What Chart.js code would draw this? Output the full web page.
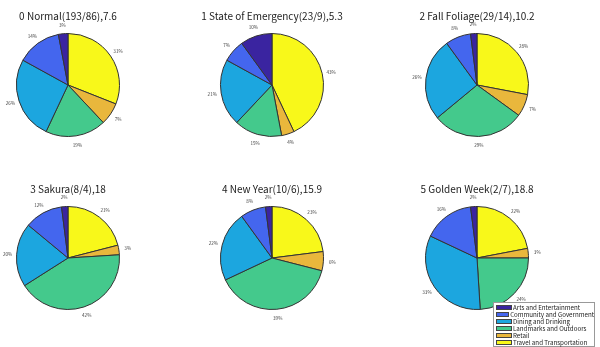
<!DOCTYPE html>
<html>
<head>
<meta charset="utf-8">
<script src="https://cdn.jsdelivr.net/npm/chart.js@4.4.1/dist/chart.umd.min.js"></script>
<style>
  body { margin: 0; background: #fff; }
  #wrap { position: relative; width: 600px; height: 347px; overflow: hidden; }
  .pie { position: absolute; width: 200px; height: 150px; }
  #legend {
    position: absolute; left: 493px; top: 302px; width: 98px; height: 42px;
    background: #fff; border: 1px solid #999; padding: 1px 0 0 2px;
    font-family: "Noto Sans CJK JP", "Noto Sans", sans-serif; font-size: 6.2px; color: #222;
    line-height: 7px; z-index: 5;
  }
  #legend div { display: flex; align-items: center; white-space: nowrap; height: 7px; }
  #legend span.sw { display: inline-block; width: 16px; height: 5px; margin-right: 1px; border: 0.5px solid #444; box-sizing: border-box; }
</style>
</head>
<body>
<div id="wrap">
  <canvas id="c0" class="pie" width="200" height="150" style="left:-32px;top:0px"></canvas>
  <canvas id="c1" class="pie" width="200" height="150" style="left:172px;top:0px"></canvas>
  <canvas id="c2" class="pie" width="200" height="150" style="left:377px;top:0px"></canvas>
  <canvas id="c3" class="pie" width="200" height="150" style="left:-32px;top:173px"></canvas>
  <canvas id="c4" class="pie" width="200" height="150" style="left:172px;top:173px"></canvas>
  <canvas id="c5" class="pie" width="200" height="150" style="left:377px;top:173px"></canvas>
  <div id="legend"></div>
</div>
<script>
// categories (legend order)
const categories = ['Arts and Entertainment', 'Community and Government', 'Dining and Drinking',
                    'Landmarks and Outdoors', 'Retail', 'Travel and Transportation'];
const colors = ['#3a24a0', '#4466ee', '#1ca6df', '#44c98c', '#e9b73c', '#f8f81a'];

const titles = ['0 Normal(193/86),7.6', '1 State of Emergency(23/9),5.3', '2 Fall Foliage(29/14),10.2',
                '3 Sakura(8/4),18', '4 New Year(10/6),15.9', '5 Golden Week(2/7),18.8'];

// shares in %, legend order
const normal      = [3, 14, 26, 19, 7, 31];
const emergency   = [10, 7, 21, 15, 4, 43];
const fallFoliage = [2, 8, 26, 29, 7, 28];
const sakura      = [2, 12, 20, 42, 3, 21];
const newYear     = [2, 8, 22, 39, 6, 23];
const goldenWeek  = [2, 16, 33, 24, 3, 22];

const series = [normal, emergency, fallFoliage, sakura, newYear, goldenWeek];

// draw percentage text just outside each slice
const pctLabels = {
    id: 'pctLabels',
    afterDatasetsDraw(chart) {
        const ctx = chart.ctx;
        const meta = chart.getDatasetMeta(0);
        const data = chart.data.datasets[0].data;
        const total = data.reduce((a, b) => a + b, 0);
        ctx.save();
        ctx.font = '4.6px "Noto Sans CJK JP", sans-serif';
        ctx.fillStyle = '#444';
        ctx.textAlign = 'center';
        ctx.textBaseline = 'middle';
        meta.data.forEach((arc, i) => {
            const p = arc.getProps(['x', 'y', 'startAngle', 'endAngle', 'outerRadius'], true);
            const mid = (p.startAngle + p.endAngle) / 2;
            const r = p.outerRadius + 9;
            ctx.fillText(Math.round(data[i] / total * 100) + '%', p.x + Math.cos(mid) * r, p.y + Math.sin(mid) * r);
        });
        ctx.restore();
    }
};

// drawn clockwise from top: Travel first, Arts last
const drawOrder = categories.map((_, i) => i).reverse();

series.forEach((vals, k) => {
    new Chart(document.getElementById('c' + k), {
        type: 'pie',
        data: {
            labels: drawOrder.map(i => categories[i]),
            datasets: [{
                data: drawOrder.map(i => vals[i]),
                backgroundColor: drawOrder.map(i => colors[i]),
                borderColor: '#333',
                borderWidth: 1,
            }]
        },
        options: {
            responsive: false,
            animation: false,
            events: [],
            layout: { padding: { left: 0, right: 0, top: 1, bottom: 13 } },
            plugins: {
                legend: { display: false },
                tooltip: { enabled: false },
                title: {
                    display: true,
                    text: titles[k],
                    color: '#222',
                    font: { family: '"Noto Sans CJK JP", "Noto Sans", sans-serif', size: 10, weight: 'normal' },
                    padding: { top: 9, bottom: 11 }
                }
            }
        },
        plugins: [pctLabels]
    });
});

const legend = document.getElementById('legend');
categories.forEach((name, i) => {
    const row = document.createElement('div');
    row.innerHTML = '<span class="sw" style="background:' + colors[i] + '"></span>' + name;
    legend.appendChild(row);
});
</script>
</body>
</html>
